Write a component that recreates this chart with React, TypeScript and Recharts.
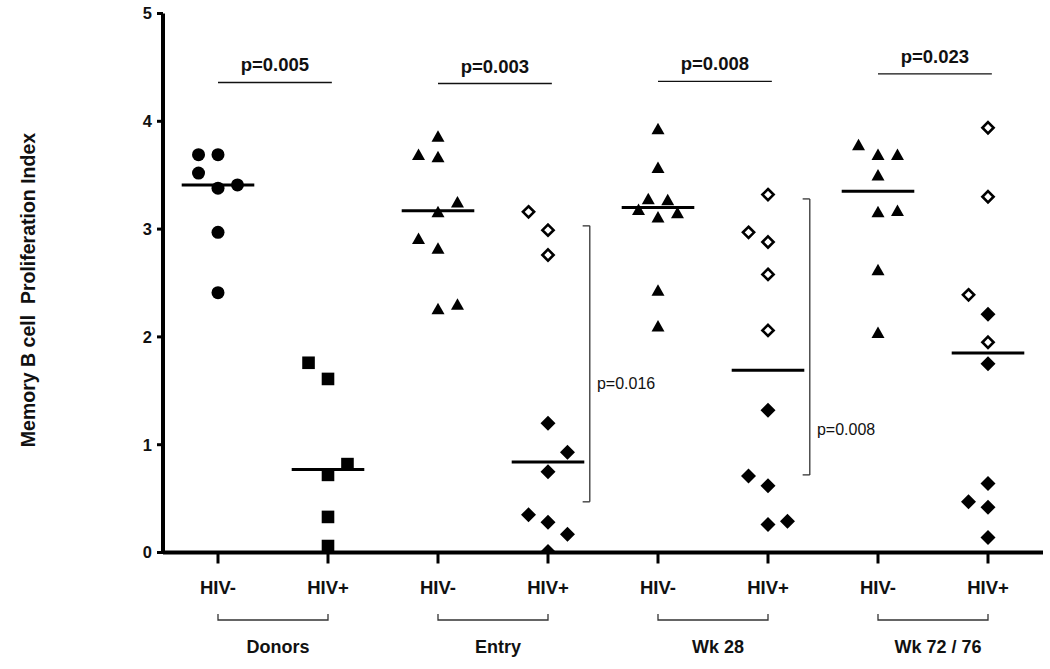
import React from 'react';
import { ScatterChart, Scatter, XAxis, YAxis, ReferenceLine, ReferenceDot } from 'recharts';

const FONT = '"Liberation Sans", Arial, Helvetica, sans-serif';

// x categories (tick labels) and group labels
const categories = ['HIV-', 'HIV+', 'HIV-', 'HIV+', 'HIV-', 'HIV+', 'HIV-', 'HIV+'];
const groupLabels = ['Donors', 'Entry', 'Wk 28', 'Wk 72 / 76'];
const yTicks = [0, 1, 2, 3, 4, 5];
const xTicks = [0.5, 1.5, 2.5, 3.5, 4.5, 5.5, 6.5, 7.5];

// Donors
const donorsNeg = [3.69, 3.69, 3.52, 3.38, 3.41, 2.97, 2.41];
const donorsNegJit = [-1, 0, -1, 0, 1, 0, 0];
const donorsPos = [1.76, 1.61, 0.82, 0.72, 0.33, 0.06];
const donorsPosJit = [-1, 0, 1, 0, 0, 0];
// Entry
const entryNeg = [3.86, 3.69, 3.67, 3.25, 3.16, 2.91, 2.82, 2.26, 2.30];
const entryNegJit = [0, -1, 0, 1, 0, -1, 0, 0, 1];
const entryPosOpen = [3.16, 2.99, 2.76];
const entryPosOpenJit = [-1, 0, 0];
const entryPosFilled = [1.2, 0.93, 0.75, 0.35, 0.28, 0.17, 0.01];
const entryPosFilledJit = [0, 1, 0, -1, 0, 1, 0];
// Wk 28
const wk28Neg = [3.93, 3.57, 3.28, 3.27, 3.18, 3.11, 3.15, 2.43, 2.1];
const wk28NegJit = [0, 0, -0.5, 0.5, -1, 0, 1, 0, 0];
const wk28PosOpen = [3.32, 2.97, 2.88, 2.58, 2.06];
const wk28PosOpenJit = [0, -1, 0, 0, 0];
const wk28PosFilled = [1.32, 0.71, 0.62, 0.26, 0.29];
const wk28PosFilledJit = [0, -1, 0, 0, 1];
// Wk 72 / 76
const wk72Neg = [3.78, 3.69, 3.69, 3.5, 3.16, 3.17, 2.62, 2.04];
const wk72NegJit = [-1, 0, 1, 0, 0, 1, 0, 0];
const wk72PosOpen = [3.94, 3.3, 2.39, 1.95];
const wk72PosOpenJit = [0, 0, -1, 0];
const wk72PosFilled = [2.21, 1.75, 0.64, 0.47, 0.42, 0.14];
const wk72PosFilledJit = [0, 0, 0, -1, 0, 0];

// medians per category
const medians = [3.41, 0.77, 3.17, 0.84, 3.2, 1.69, 3.35, 1.85];

// p-values between HIV- and HIV+ in each group
const pValues = ['p=0.005', 'p=0.003', 'p=0.008', 'p=0.023'];
const pLevels = [4.36, 4.35, 4.37, 4.44];

// side brackets (HIV+ entry vs wk28, wk28 vs wk72)
const sideLabels = ['p=0.016', 'p=0.008'];
const sideX = [3.88, 5.88];
const sideTop = [3.03, 3.28];
const sideBottom = [0.47, 0.72];
const sideLabelX = [3.945, 5.945];
const sideLabelY = [1.57, 1.15];

const JIT = 0.177;
const pts = (cat: number, vals: number[], jit: number[]) =>
  vals.map((v, i) => ({ x: cat + 0.5 + jit[i] * JIT, y: v }));

const CircleShape = (p: any) => <circle cx={p.cx} cy={p.cy} r={6.5} fill="#000" />;
const SquareShape = (p: any) => (
  <rect x={p.cx - 6.3} y={p.cy - 6.3} width={12.6} height={12.6} fill="#000" />
);
const TriShape = (p: any) => (
  <path d={`M${p.cx},${p.cy - 6.2} L${p.cx + 6.5},${p.cy + 5.3} L${p.cx - 6.5},${p.cy + 5.3} Z`} fill="#000" />
);
const DiamondShape = (p: any) => (
  <path d={`M${p.cx},${p.cy - 7.5} L${p.cx + 7.5},${p.cy} L${p.cx},${p.cy + 7.5} L${p.cx - 7.5},${p.cy} Z`} fill="#000" />
);
const OpenDiamondShape = (p: any) => (
  <path
    d={`M${p.cx},${p.cy - 5.6} L${p.cx + 5.6},${p.cy} L${p.cx},${p.cy + 5.6} L${p.cx - 5.6},${p.cy} Z`}
    fill="#fff"
    stroke="#000"
    strokeWidth={2.6}
    strokeLinejoin="miter"
  />
);

const XTick = (props: any) => {
  const { x, y, payload, width } = props;
  const idx = Math.round(payload.value - 0.5);
  const unit = (typeof width === 'number' && width > 0 ? width : 880) / 8;
  const isPlus = idx % 2 === 1;
  return (
    <g>
      <text x={x} y={y + 28} textAnchor="middle" fontFamily={FONT} fontWeight="bold" fontSize={18.5} fill="#111">
        {categories[idx]}
      </text>
      {isPlus && (
        <g>
          <path
            d={`M${x - unit},${y + 48.5} V${y + 54.5} H${x} V${y + 48.5}`}
            fill="none"
            stroke="#333"
            strokeWidth={1.3}
          />
          <text
            x={x - unit / 2 + 5}
            y={y + 87}
            textAnchor="middle"
            fontFamily={FONT}
            fontWeight="bold"
            fontSize={18}
            fill="#111"
          >
            {groupLabels[(idx - 1) / 2]}
          </text>
        </g>
      )}
    </g>
  );
};

const TopPLabel = (text: string) => (props: any) => {
  const vb = props.viewBox || {};
  return (
    <text
      x={vb.x + vb.width / 2}
      y={vb.y - 11}
      textAnchor="middle"
      fontFamily={FONT}
      fontWeight="bold"
      fontSize={18.5}
      fill="#111"
    >
      {text}
    </text>
  );
};

const SidePLabel = (text: string) => (props: any) => {
  const vb = props.viewBox || {};
  return (
    <text x={vb.x} y={vb.y + 6} textAnchor="start" fontFamily={FONT} fontSize={16} fill="#111">
      {text}
    </text>
  );
};

export default function App() {
  const series = [
    { data: pts(0, donorsNeg, donorsNegJit), shape: CircleShape },
    { data: pts(1, donorsPos, donorsPosJit), shape: SquareShape },
    { data: pts(2, entryNeg, entryNegJit), shape: TriShape },
    { data: pts(3, entryPosOpen, entryPosOpenJit), shape: OpenDiamondShape },
    { data: pts(3, entryPosFilled, entryPosFilledJit), shape: DiamondShape },
    { data: pts(4, wk28Neg, wk28NegJit), shape: TriShape },
    { data: pts(5, wk28PosOpen, wk28PosOpenJit), shape: OpenDiamondShape },
    { data: pts(5, wk28PosFilled, wk28PosFilledJit), shape: DiamondShape },
    { data: pts(6, wk72Neg, wk72NegJit), shape: TriShape },
    { data: pts(7, wk72PosOpen, wk72PosOpenJit), shape: OpenDiamondShape },
    { data: pts(7, wk72PosFilled, wk72PosFilledJit), shape: DiamondShape },
  ];

  return (
    <div style={{ position: 'absolute', left: 0, top: 0, width: 1050, height: 669, background: '#fff' }}>
      <ScatterChart width={1050} height={669} margin={{ top: 13.5, right: 7, bottom: 86.5, left: 103 }}>
        <XAxis
          type="number"
          dataKey="x"
          domain={[0, 8]}
          ticks={xTicks}
          interval={0}
          height={30}
          axisLine={{ stroke: '#000', strokeWidth: 4 }}
          tickLine={{ stroke: '#000', strokeWidth: 3 }}
          tickSize={11}
          tick={<XTick />}
          allowDataOverflow
        />
        <YAxis
          type="number"
          dataKey="y"
          domain={[0, 5]}
          ticks={yTicks}
          interval={0}
          width={60}
          axisLine={{ stroke: '#000', strokeWidth: 4 }}
          tickLine={{ stroke: '#000', strokeWidth: 3 }}
          tickSize={6}
          tickMargin={5}
          tick={{ fill: '#111', fontSize: 16.5, fontWeight: 'bold', fontFamily: FONT }}
          allowDataOverflow
        />
        {series.map((s, i) => (
          <Scatter key={i} data={s.data} shape={s.shape} isAnimationActive={false} legendType="none" />
        ))}
        {medians.map((m, i) => (
          <ReferenceLine
            key={`m${i}`}
            segment={[
              { x: i + 0.5 - 0.33, y: m },
              { x: i + 0.5 + 0.33, y: m },
            ]}
            stroke="#000"
            strokeWidth={3}
          />
        ))}
        {pValues.map((p, g) => (
          <ReferenceLine
            key={`p${g}`}
            segment={[
              { x: 2 * g + 0.5, y: pLevels[g] },
              { x: 2 * g + 1.535, y: pLevels[g] },
            ]}
            stroke="#111"
            strokeWidth={1.4}
            label={TopPLabel(p)}
          />
        ))}
        {sideLabels.map((s, k) => (
          <ReferenceLine
            key={`sv${k}`}
            segment={[
              { x: sideX[k], y: sideTop[k] },
              { x: sideX[k], y: sideBottom[k] },
            ]}
            stroke="#333"
            strokeWidth={1.3}
          />
        ))}
        {sideLabels.map((s, k) => (
          <ReferenceLine
            key={`st${k}`}
            segment={[
              { x: sideX[k] - 0.065, y: sideTop[k] },
              { x: sideX[k], y: sideTop[k] },
            ]}
            stroke="#333"
            strokeWidth={1.3}
          />
        ))}
        {sideLabels.map((s, k) => (
          <ReferenceLine
            key={`sb${k}`}
            segment={[
              { x: sideX[k] - 0.065, y: sideBottom[k] },
              { x: sideX[k], y: sideBottom[k] },
            ]}
            stroke="#333"
            strokeWidth={1.3}
          />
        ))}
        {sideLabels.map((s, k) => (
          <ReferenceDot
            key={`sl${k}`}
            x={sideLabelX[k]}
            y={sideLabelY[k]}
            r={0}
            fill="none"
            stroke="none"
            label={SidePLabel(s)}
          />
        ))}
      </ScatterChart>
      <div
        style={{
          position: 'absolute',
          left: 28,
          top: 290,
          transform: 'translate(-50%, -50%) rotate(-90deg)',
          whiteSpace: 'pre',
          fontFamily: FONT,
          fontWeight: 'bold',
          fontSize: 19.5,
          color: '#111',
        }}
      >
        {'Memory B cell  Proliferation Index'}
      </div>
    </div>
  );
}
